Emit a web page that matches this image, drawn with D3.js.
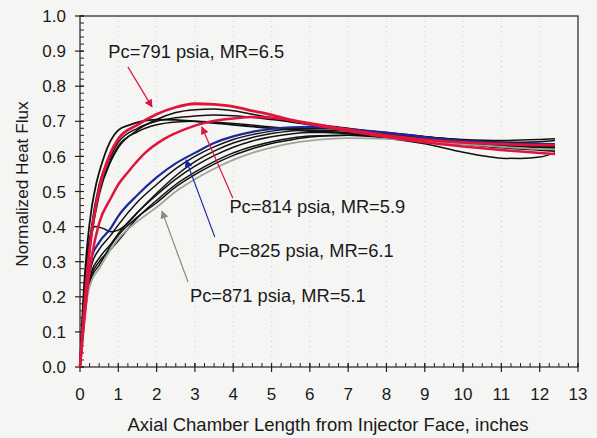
<!DOCTYPE html>
<html><head><meta charset="utf-8">
<script src="https://cdn.jsdelivr.net/npm/d3@7"></script>
<style>body{margin:0;background:#f5f5f3;}svg{display:block;}</style>
</head><body><svg id="c" width="597" height="438"></svg>
<script>
// ---- data ----
const xTicks = [0,1,2,3,4,5,6,7,8,9,10,11,12,13];
const yTicks = [0,0.1,0.2,0.3,0.4,0.5,0.6,0.7,0.8,0.9,1.0];
const xLabel = "Axial Chamber Length from Injector Face, inches";
const yLabel = "Normalized Heat Flux";

const blackFast1 = [[0,0],[0.05,0.12],[0.1,0.22],[0.2,0.36],[0.3,0.45],[0.4,0.51],[0.6,0.59],[0.8,0.645],[1.0,0.675],[1.3,0.69],[1.6,0.7],[2,0.705],[2.5,0.704],[3,0.7],[3.5,0.695],[4,0.69],[5,0.68],[6,0.672],[7,0.665],[8,0.655],[9,0.645],[10,0.635],[11,0.625],[12,0.618],[12.4,0.615]];
const blackFast2 = [[0,0],[0.1,0.17],[0.2,0.3],[0.3,0.4],[0.5,0.52],[0.8,0.6],[1,0.64],[1.5,0.68],[2,0.7],[2.5,0.71],[3,0.715],[3.5,0.718],[4,0.716],[5,0.705],[6,0.69],[7,0.675],[8,0.66],[9,0.65],[10,0.643],[11,0.64],[12,0.642],[12.4,0.645]];
const blackFast3 = [[0,0],[0.1,0.15],[0.2,0.28],[0.3,0.37],[0.5,0.49],[0.8,0.585],[1,0.625],[1.5,0.675],[2,0.705],[2.5,0.725],[3,0.733],[3.5,0.735],[4,0.73],[4.5,0.72],[5,0.71],[6,0.693],[7,0.68],[8,0.665],[9,0.655],[10,0.648],[11,0.645],[12,0.648],[12.4,0.65]];
const blackFast4 = [[0,0],[0.1,0.16],[0.2,0.29],[0.3,0.38],[0.5,0.5],[0.8,0.59],[1,0.63],[1.5,0.67],[2,0.69],[2.5,0.698],[3,0.7],[4,0.694],[5,0.684],[6,0.674],[7,0.668],[8,0.66],[9,0.652],[10,0.64],[11,0.63],[12,0.625],[12.4,0.624]];
const blackSlow1 = [[0,0],[0.1,0.14],[0.2,0.23],[0.3,0.29],[0.5,0.335],[0.8,0.375],[1,0.405],[1.5,0.47],[2,0.52],[2.5,0.565],[3,0.6],[3.5,0.627],[4,0.648],[4.5,0.662],[5,0.672],[5.5,0.678],[6,0.68],[7,0.677],[8,0.668],[9,0.657],[10,0.646],[11,0.64],[12,0.637],[12.4,0.636]];
const blackSlow2 = [[0,0],[0.1,0.2],[0.2,0.33],[0.3,0.385],[0.4,0.4],[0.6,0.395],[0.8,0.385],[1,0.39],[1.2,0.405],[1.5,0.44],[2,0.495],[2.5,0.545],[3,0.585],[3.5,0.615],[4,0.638],[4.5,0.654],[5,0.665],[5.5,0.672],[6,0.675],[7,0.674],[8,0.666],[9,0.656],[10,0.645],[11,0.636],[12,0.63],[12.4,0.628]];
const blackSlow3 = [[0,0],[0.1,0.13],[0.2,0.22],[0.3,0.27],[0.5,0.31],[0.8,0.35],[1,0.38],[1.5,0.44],[2,0.49],[2.5,0.535],[3,0.572],[3.5,0.602],[4,0.626],[4.5,0.644],[5,0.656],[5.5,0.664],[6,0.668],[7,0.668],[8,0.662],[9,0.652],[10,0.64],[11,0.632],[12,0.628],[12.4,0.627]];
const blackSlow4 = [[0,0],[0.1,0.13],[0.2,0.21],[0.3,0.26],[0.5,0.3],[0.8,0.335],[1,0.36],[1.5,0.425],[2,0.475],[2.5,0.52],[3,0.555],[3.5,0.585],[4,0.61],[4.5,0.628],[5,0.642],[5.5,0.652],[6,0.658],[7,0.66],[8,0.652],[9,0.636],[10,0.612],[10.5,0.602],[11,0.595],[11.5,0.594],[12,0.598],[12.4,0.61]];
const blackSlow5 = [[0,0],[0.1,0.12],[0.2,0.215],[0.3,0.255],[0.5,0.29],[0.8,0.345],[1,0.375],[1.5,0.427],[2,0.468],[2.5,0.513],[3,0.548],[3.5,0.578],[4,0.603],[4.5,0.622],[5,0.637],[5.5,0.647],[6,0.655],[6.5,0.659],[7,0.66],[8,0.657],[9,0.649],[10,0.64],[11,0.632],[12,0.626],[12.4,0.624]];
const gray871 = [[0,0],[0.1,0.115],[0.2,0.205],[0.3,0.245],[0.5,0.28],[0.8,0.335],[1,0.365],[1.5,0.415],[2,0.455],[2.5,0.5],[3,0.535],[3.5,0.565],[4,0.59],[4.5,0.61],[5,0.625],[5.5,0.637],[6,0.645],[6.5,0.65],[7,0.652],[8,0.65],[9,0.643],[10,0.635],[11,0.627],[12,0.621],[12.4,0.62]];
const blue825 = [[0,0],[0.1,0.15],[0.2,0.25],[0.3,0.31],[0.5,0.355],[0.8,0.395],[1,0.43],[1.5,0.49],[2,0.54],[2.5,0.58],[3,0.61],[3.5,0.638],[4,0.657],[4.5,0.67],[5,0.678],[5.5,0.683],[6,0.684],[6.5,0.682],[7,0.678],[8,0.668],[9,0.655],[10,0.644],[11,0.638],[12,0.635],[12.4,0.634]];
const red791 = [[0,0],[0.1,0.15],[0.2,0.28],[0.3,0.38],[0.45,0.48],[0.6,0.55],[0.8,0.61],[1.0,0.65],[1.5,0.69],[2.0,0.72],[2.5,0.74],[3.0,0.75],[3.5,0.748],[4.0,0.742],[4.5,0.73],[5.0,0.718],[5.5,0.704],[6.0,0.694],[6.5,0.685],[7,0.676],[8,0.66],[9,0.648],[10,0.64],[11,0.635],[12,0.632],[12.4,0.632]];
const red814 = [[0,0],[0.1,0.12],[0.2,0.23],[0.3,0.31],[0.5,0.41],[0.8,0.48],[1.0,0.52],[1.25,0.555],[1.7,0.61],[2.2,0.65],[2.8,0.68],[3.3,0.697],[4.0,0.708],[4.5,0.712],[5.0,0.71],[5.5,0.703],[6.0,0.692],[6.5,0.682],[7,0.672],[8,0.655],[9,0.64],[10,0.628],[11,0.618],[12,0.61],[12.4,0.607]];

// annotations: label, label anchor (data), arrow tail, arrow tip (data)
const annLabels = ["Pc=791 psia, MR=6.5","Pc=814 psia, MR=5.9","Pc=825 psia, MR=6.1","Pc=871 psia, MR=5.1"];
const annTextPos = [[0.74,0.88],[3.9,0.439],[3.60,0.312],[2.87,0.185]];
const annTail = [[1.25,0.855],[3.99,0.481],[3.52,0.37],[2.82,0.242]];
const annTip = [[1.88,0.741],[3.18,0.684],[2.77,0.59],[2.14,0.444]];
const annColors = ["#e0143c","#e0143c","#1a2a9a","#7f8f7f"];

// ---- chart ----
const W=597,H=438, m={l:80,r:19,t:16,b:71};
const svg=d3.select("#c");
svg.append("rect").attr("width",W).attr("height",H).attr("fill","#f5f5f3");
const x=d3.scaleLinear().domain([0,13]).range([m.l,W-m.r]);
const y=d3.scaleLinear().domain([0,1]).range([H-m.b,m.t]);
const font="Liberation Sans, Arial, Helvetica, sans-serif";

// gridlines
svg.append("g").selectAll("line").data(xTicks.slice(1,-1)).join("line")
  .attr("x1",d=>x(d)).attr("x2",d=>x(d)).attr("y1",y(1)).attr("y2",y(0))
  .attr("stroke","#c8c8c8").attr("stroke-width",0.8).attr("stroke-dasharray","1,4");

// frame
svg.append("rect").attr("x",x(0)).attr("y",y(1)).attr("width",x(13)-x(0)).attr("height",y(0)-y(1))
  .attr("fill","none").attr("stroke","#222").attr("stroke-width",1.2);

// axes
const yMinor=d3.range(0,1.0001,0.02);
const xMinor=d3.range(0,13.0001,0.25);
const gY=svg.append("g");
gY.selectAll("line.mi").data(yMinor).join("line").attr("class","mi")
  .attr("x1",x(0)).attr("x2",x(0)+4).attr("y1",d=>y(d)).attr("y2",d=>y(d)).attr("stroke","#222");
gY.selectAll("line.ma").data(yTicks).join("line").attr("class","ma")
  .attr("x1",x(0)-5).attr("x2",x(0)+4).attr("y1",d=>y(d)).attr("y2",d=>y(d)).attr("stroke","#222").attr("stroke-width",1.2);
gY.selectAll("text").data(yTicks).join("text")
  .attr("x",x(0)-14).attr("y",d=>y(d)).attr("dy","0.36em").attr("text-anchor","end")
  .attr("font-family",font).attr("font-size",17).attr("fill","#1a1a1a").text(d=>d3.format(".1f")(d));
const gX=svg.append("g");
gX.selectAll("line.mi").data(xMinor).join("line").attr("class","mi")
  .attr("y1",y(0)).attr("y2",y(0)-4).attr("x1",d=>x(d)).attr("x2",d=>x(d)).attr("stroke","#222");
gX.selectAll("line.ma").data(xTicks).join("line").attr("class","ma")
  .attr("y1",y(0)-4).attr("y2",y(0)+5).attr("x1",d=>x(d)).attr("x2",d=>x(d)).attr("stroke","#222").attr("stroke-width",1.2);
gX.selectAll("text").data(xTicks).join("text")
  .attr("x",d=>x(d)).attr("y",y(0)+33).attr("text-anchor","middle")
  .attr("font-family",font).attr("font-size",17).attr("fill","#1a1a1a").text(d=>d);

svg.append("text").attr("x",328).attr("y",431).attr("text-anchor","middle")
  .attr("font-family",font).attr("font-size",18.5).attr("fill","#1a1a1a").text(xLabel);
svg.append("text").attr("transform",`translate(28,184) rotate(-90)`).attr("text-anchor","middle")
  .attr("font-family",font).attr("font-size",17.2).attr("fill","#1a1a1a").text(yLabel);

// curves
const line=d3.line().x(d=>x(d[0])).y(d=>y(d[1])).curve(d3.curveMonotoneX);
const series=[
  {d:blackSlow5,c:"#111",w:1.5},{d:blackSlow4,c:"#111",w:1.5},{d:blackSlow3,c:"#111",w:1.5},
  {d:blackSlow2,c:"#111",w:1.5},{d:blackSlow1,c:"#111",w:1.5},
  {d:blackFast4,c:"#111",w:1.5},{d:blackFast1,c:"#111",w:1.8},{d:blackFast2,c:"#111",w:1.5},{d:blackFast3,c:"#111",w:1.5},
  {d:gray871,c:"#9aa89a",w:1.8},
  {d:blue825,c:"#1a2a9a",w:2.2},
  {d:red814,c:"#e0143c",w:2.5},{d:red791,c:"#e0143c",w:2.8}
];
svg.append("g").attr("fill","none").selectAll("path").data(series).join("path")
  .attr("d",s=>line(s.d)).attr("stroke",s=>s.c).attr("stroke-width",s=>s.w).attr("stroke-linejoin","round");

// annotations
const defs=svg.append("defs");
annColors.forEach((c,i)=>{
  defs.append("marker").attr("id","ah"+i).attr("viewBox","0 0 10 10").attr("refX",9).attr("refY",5)
    .attr("markerWidth",10).attr("markerHeight",8).attr("markerUnits","userSpaceOnUse").attr("orient","auto")
    .append("path").attr("d","M0,0L10,5L0,10Z").attr("fill",c);
});
const ga=svg.append("g");
annLabels.forEach((t,i)=>{
  ga.append("line").attr("x1",x(annTail[i][0])).attr("y1",y(annTail[i][1]))
    .attr("x2",x(annTip[i][0])).attr("y2",y(annTip[i][1]))
    .attr("stroke",annColors[i]).attr("stroke-width",1.2).attr("marker-end",`url(#ah${i})`);
  ga.append("text").attr("x",x(annTextPos[i][0])).attr("y",y(annTextPos[i][1]))
    .attr("font-family",font).attr("font-size",18.3).attr("fill","#1a1a1a").text(t);
});
</script></body></html>
